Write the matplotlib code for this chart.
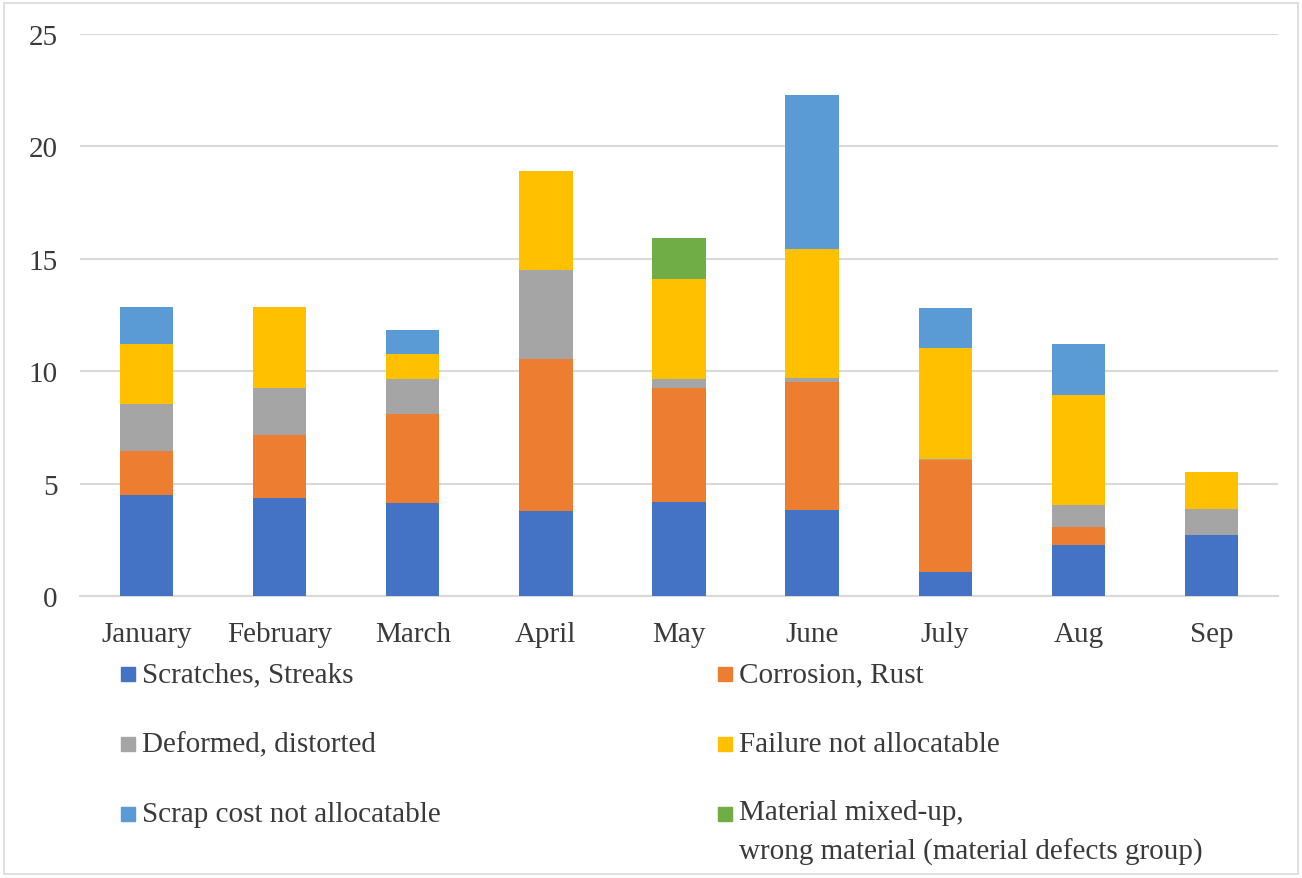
import numpy as np
import matplotlib
matplotlib.use("Agg")
import matplotlib.pyplot as plt
from matplotlib.patches import Rectangle

# ---- data ----
months = ["January", "February", "March", "April", "May", "June", "July", "Aug", "Sep"]

scratches = [4.48, 4.36, 4.14, 3.78, 4.16, 3.83, 1.06, 2.25, 2.70]
corrosion = [1.98, 2.81, 3.97, 6.76, 5.10, 5.69, 4.98, 0.82, 0.00]
deformed  = [2.07, 2.07, 1.56, 3.96, 0.39, 0.16, 0.06, 0.97, 1.16]
failure   = [2.66, 3.62, 1.08, 4.39, 4.45, 5.74, 4.94, 4.90, 1.64]
scrap     = [1.67, 0.00, 1.08, 0.00, 0.00, 6.88, 1.76, 2.28, 0.00]
material  = [0.00, 0.00, 0.00, 0.00, 1.83, 0.00, 0.00, 0.00, 0.00]

series = [
    ("Scratches, Streaks", scratches, "#4472C4"),
    ("Corrosion, Rust", corrosion, "#ED7D31"),
    ("Deformed, distorted", deformed, "#A5A5A5"),
    ("Failure not allocatable", failure, "#FFC000"),
    ("Scrap cost not allocatable", scrap, "#5B9BD5"),
    ("Material mixed-up,\nwrong material (material defects group)", material, "#70AD47"),
]

yticks = [0, 5, 10, 15, 20, 25]

plt.rcParams["font.family"] = ["Liberation Serif", "DejaVu Serif"]
TXT = "#3A3A3A"
FS = 21

W, H = 1302, 879
fig = plt.figure(figsize=(W / 100, H / 100), dpi=100)
ax = fig.add_axes([80 / W, 1 - 597 / H, (1278 - 80) / W, (597 - 35) / H])

x = np.arange(len(months))
bottom = np.zeros(len(months))
for name, vals, col in series:
    v = np.array(vals)
    ax.bar(x, v, width=0.4, bottom=bottom, color=col, zorder=3)
    bottom += v

ax.set_xlim(-0.5, len(months) - 0.5)
ax.set_ylim(0, 25)
ax.set_yticks(yticks)
ax.set_xticks(x)
ax.set_xticklabels(months)
ax.yaxis.grid(True, color="#D9D9D9", lw=1.5, zorder=0)
ax.set_axisbelow(True)
for s in ["top", "right", "left"]:
    ax.spines[s].set_visible(False)
ax.spines["bottom"].set_color("#D9D9D9")
ax.spines["bottom"].set_linewidth(1.5)
ax.tick_params(axis="both", length=0, labelsize=FS, labelcolor=TXT)
ax.tick_params(axis="x", pad=18)
ax.tick_params(axis="y", pad=16)

# ---- legend laid out in two columns, three rows ----
col_x = [121, 718]
row_y = [675, 745, 815]
for i, (name, vals, col) in enumerate(series):
    cx = col_x[i % 2]
    cy = row_y[i // 2]
    fig.patches.append(Rectangle((cx / W, 1 - (cy + 7) / H), 14 / W, 14 / H,
                                 transform=fig.transFigure, color=col, figure=fig))
    t = fig.text((cx + 21) / W, 1 - cy / H, name, fontsize=FS, color=TXT,
                 va="center", ha="left")
    if "\n" in name:
        t.set_va("top")
        t.set_linespacing(1.6)
        t.set_y(1 - (cy - 15) / H)

# chart border
fig.patches.append(Rectangle((4 / W, 4 / H), (W - 8) / W, (H - 8) / H,
                             transform=fig.transFigure, fill=False,
                             edgecolor="#D9D9D9", lw=1.2, figure=fig))

fig.savefig("out.png", dpi=100)
